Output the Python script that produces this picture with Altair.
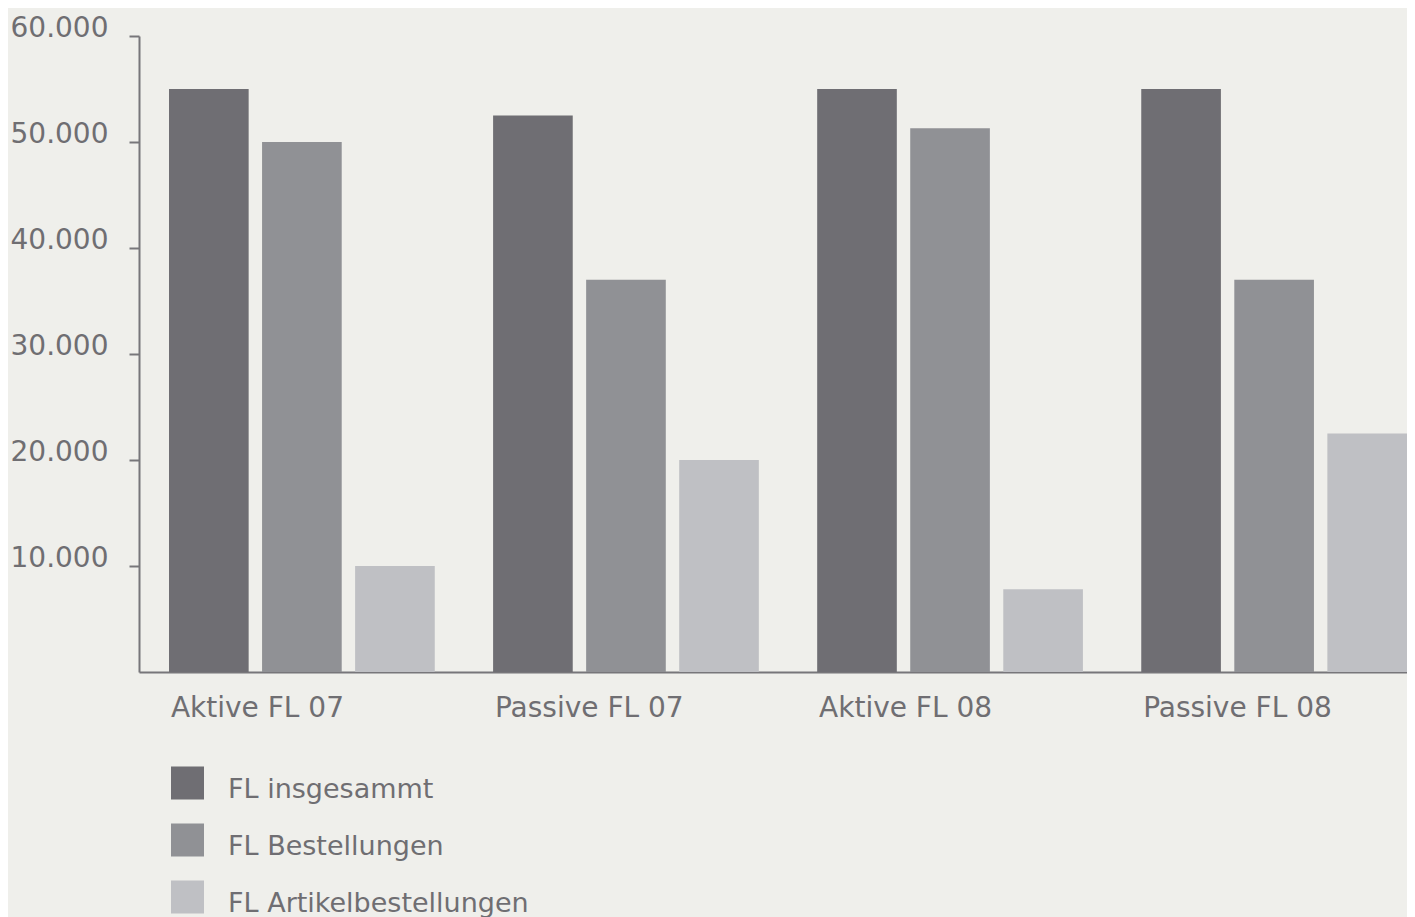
import altair as alt
import pandas as pd

groups = ["Aktive FL 07", "Passive FL 07", "Aktive FL 08", "Passive FL 08"]
series = ["FL insgesammt", "FL Bestellungen", "FL Artikelbestellungen"]
insgesammt = [55000, 52500, 55000, 55000]
bestellungen = [50000, 37000, 51300, 37000]
artikel = [10000, 20000, 7800, 22500]
y_ticks = [10000, 20000, 30000, 40000, 50000, 60000]
colors = ["#6f6e73", "#909195", "#bfc0c4"]

rows = []
for vals, s in zip([insgesammt, bestellungen, artikel], series):
    for g, v in zip(groups, vals):
        rows.append({"group": g, "series": s, "value": v})
df = pd.DataFrame(rows)

FONT = "DejaVu Sans"
TXT = "#6f6e72"
AX = "#77767a"

chart = alt.Chart(df).mark_bar().encode(
    x=alt.X("group:N", sort=groups,
            scale=alt.Scale(paddingInner=0.18, paddingOuter=0.0463, align=1),
            axis=alt.Axis(title=None, ticks=False, domain=True, domainColor=AX, domainWidth=2,
                          labelAlign="left", labelBaseline="alphabetic",
                          labelPadding=44, labelOffset=-131, labelAngle=0, labelLimit=500,
                          labelFont=FONT, labelFontSize=28, labelColor=TXT)),
    xOffset=alt.XOffset("series:N", sort=series,
                        scale=alt.Scale(paddingInner=0.144, paddingOuter=0)),
    y=alt.Y("value:Q", scale=alt.Scale(domain=[0, 60000], nice=False),
            axis=alt.Axis(title=None, values=y_ticks, grid=False, domain=True, domainColor=AX,
                          domainWidth=2, ticks=True, tickSize=10, tickWidth=2, tickColor=AX,
                          labelPadding=21, labelBaseline="alphabetic",
                          labelExpr="replace(format(datum.value, ',d'), ',', '.')",
                          labelFont=FONT, labelFontSize=28, labelColor=TXT)),
    color=alt.Color("series:N", sort=series,
                    scale=alt.Scale(domain=series, range=colors),
                    legend=alt.Legend(title=None, orient="none", legendX=32, legendY=737,
                                      direction="vertical", padding=0,
                                      symbolType="M-1,-1.39H1V0.61H-1Z", symbolSize=1089,
                                      symbolStrokeWidth=0, symbolOpacity=1,
                                      labelFont=FONT, labelFontSize=27, labelColor=TXT,
                                      labelOffset=24, rowPadding=20, labelLimit=600)),
).properties(
    width=1268, height=636,
    autosize=alt.AutoSizeParams(type="none"),
    padding={"left": 131, "top": 28, "right": 0, "bottom": 262},
    background="#efefeb",
).configure_view(stroke=None)

chart.save("out.html", embed_options={"renderer": "svg", "actions": False})
